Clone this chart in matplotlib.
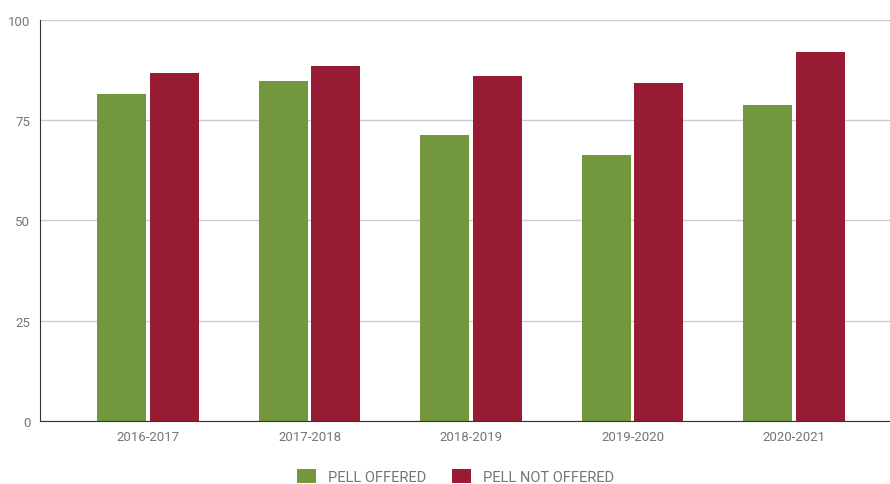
import numpy as np
import matplotlib.pyplot as plt

years = ['2016-2017', '2017-2018', '2018-2019', '2019-2020', '2020-2021']
pell_offered = [81.6, 84.7, 71.3, 66.3, 78.7]
pell_not_offered = [86.7, 88.5, 86.0, 84.4, 92.1]

green = '#72973D'
red = '#961B33'
grey_text = '#757575'

plt.rcParams['font.family'] = ['Roboto', 'DejaVu Sans']

fig = plt.figure(figsize=(8.9, 4.85), dpi=100)
ax = fig.add_axes([0.045, 0.1305, 0.955, 0.826])

x = np.arange(len(years))
w = 0.303
ax.bar(x - 0.162, pell_offered, w, color=green, label='PELL OFFERED', zorder=3)
ax.bar(x + 0.162, pell_not_offered, w, color=red, label='PELL NOT OFFERED', zorder=3)

ax.set_ylim(0, 100)
ax.set_xlim(-0.669, 4.594)
ax.set_yticks([0, 25, 50, 75, 100])
ax.set_xticks(x)
ax.set_xticklabels(years)
ax.tick_params(axis='both', length=0, colors=grey_text, labelsize=9.5)
ax.tick_params(axis='y', pad=7)
ax.tick_params(axis='x', pad=7)
ax.grid(axis='y', color='#cccccc', linewidth=1, zorder=0)

for s in ['top', 'right']:
    ax.spines[s].set_visible(False)
ax.spines['left'].set_color('#333333')
ax.spines['bottom'].set_color('#333333')
ax.spines['left'].set_zorder(4)
ax.spines['bottom'].set_zorder(4)

fig.legend(loc='center', bbox_to_anchor=(0.512, 0.016), ncol=2, frameon=False,
           fontsize=10.5, labelcolor=grey_text, handlelength=1.3, handleheight=1.2,
           columnspacing=1.8, handletextpad=0.8)

fig.savefig('out.png', dpi=100)
